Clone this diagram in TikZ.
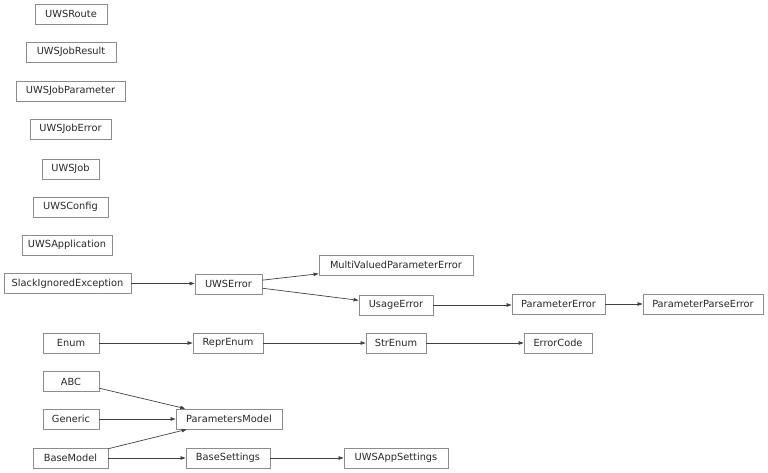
\documentclass[tikz,border=0pt]{standalone}
\usepackage{fontspec}
\setmainfont{DejaVu Sans}
\usetikzlibrary{arrows.meta}
\definecolor{boxline}{HTML}{8C8C8C}
\definecolor{edgeline}{HTML}{404040}
\begin{document}
\begin{tikzpicture}[x=1pt,y=-1pt,
  box/.style={draw=boxline, line width=0.8pt, minimum height=20pt, inner sep=0pt,
    font=\fontsize{9.8}{11}\selectfont, text=black!85},
  inh/.style={draw=edgeline, line width=0.7pt, -{Triangle[length=5pt,width=3.5pt]}}]
\useasboundingbox (0,0) rectangle (768,473);
\node[box, minimum width=72pt]  (route)   at (71,14)    {UWSRoute};
\node[box, minimum width=90pt]  (jres)    at (71,52)    {UWSJobResult};
\node[box, minimum width=109pt] (jpar)    at (70.5,91)  {UWSJobParameter};
\node[box, minimum width=81pt]  (jerr)    at (70.5,129) {UWSJobError};
\node[box, minimum width=57pt]  (job)     at (70.5,169) {UWSJob};
\node[box, minimum width=75pt]  (conf)    at (70.5,207) {UWSConfig};
\node[box, minimum width=90pt]  (app)     at (67,245)   {UWSApplication};
\node[box, minimum width=127pt] (slack)   at (67.5,283.5) {SlackIgnoredException};
\node[box, minimum width=67pt]  (uwserr)  at (228.5,284) {UWSError};
\node[box, minimum width=154pt] (multi)   at (396,265)  {MultiValuedParameterError};
\node[box, minimum width=74pt]  (usage)   at (396,305)  {UsageError};
\node[box, minimum width=93pt]  (perr)    at (558.5,304) {ParameterError};
\node[box, minimum width=120pt] (pperr)   at (703,304)  {ParameterParseError};
\node[box, minimum width=56pt]  (enum)    at (71,343)   {Enum};
\node[box, minimum width=70pt]  (repr)    at (228,343)  {ReprEnum};
\node[box, minimum width=60pt]  (strenum) at (396,343)  {StrEnum};
\node[box, minimum width=68pt]  (ecode)   at (558,343)  {ErrorCode};
\node[box, minimum width=56pt]  (abc)     at (71,381.5) {ABC};
\node[box, minimum width=56pt]  (generic) at (71,419)   {Generic};
\node[box, minimum width=106pt] (pmodel)  at (229,419)  {ParametersModel};
\node[box, minimum width=75pt]  (bmodel)  at (70.5,458) {BaseModel};
\node[box, minimum width=84pt]  (bset)    at (228,458)  {BaseSettings};
\node[box, minimum width=104pt] (appset)  at (396,458)  {UWSAppSettings};
\draw[inh] (slack) -- (slack -| uwserr.west);
\draw[inh] (uwserr) -- (multi);
\draw[inh] (uwserr) -- (usage);
\draw[inh] (usage) -- (usage -| perr.west);
\draw[inh] (perr) -- (pperr);
\draw[inh] (enum) -- (repr);
\draw[inh] (repr) -- (strenum);
\draw[inh] (strenum) -- (ecode);
\draw[inh] (abc) -- (pmodel);
\draw[inh] (generic) -- (pmodel);
\draw[inh] (bmodel) -- (pmodel);
\draw[inh] (bmodel) -- (bset);
\draw[inh] (bset) -- (appset);
\end{tikzpicture}
\end{document}
